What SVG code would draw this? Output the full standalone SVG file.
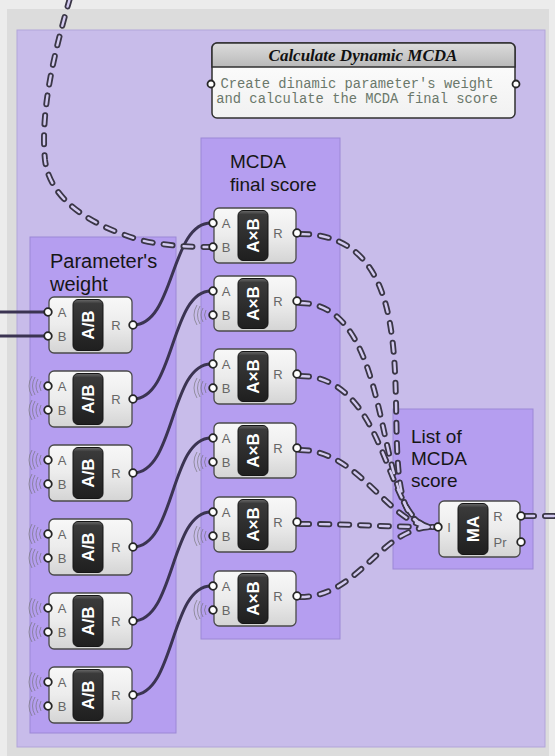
<svg xmlns="http://www.w3.org/2000/svg" xmlns:xlink="http://www.w3.org/1999/xlink" width="555" height="756" viewBox="0 0 555 756">
  <defs>
    <linearGradient id="boxg" x1="0" y1="0" x2="0" y2="1">
      <stop offset="0" stop-color="#f8f8f8"/>
      <stop offset="0.5" stop-color="#ececec"/>
      <stop offset="1" stop-color="#d4d4d4"/>
    </linearGradient>
    <linearGradient id="capg" x1="0" y1="0" x2="0" y2="1">
      <stop offset="0" stop-color="#6a6a6a"/>
      <stop offset="0.08" stop-color="#3a3a3a"/>
      <stop offset="1" stop-color="#1f1f1f"/>
    </linearGradient>
    <linearGradient id="hdrg" x1="0" y1="0" x2="0" y2="1">
      <stop offset="0" stop-color="#dcdcdc"/>
      <stop offset="1" stop-color="#b9b9b9"/>
    </linearGradient>
    <linearGradient id="bodyg" x1="0" y1="0" x2="0" y2="1">
      <stop offset="0" stop-color="#ffffff"/>
      <stop offset="1" stop-color="#f1f1f1"/>
    </linearGradient>
    <!-- wireless-input marker: faint arcs left of a port -->
    <g id="wl" class="wl">
      <path d="M-7,-5 Q-10,0 -7,5 M-10,-7 Q-14,0 -10,7 M-13,-9 Q-18,0 -13,9 M-16,-10 Q-22,0 -16,10"/>
    </g>
    <style>
      .outer { fill: #c8bcea; stroke: #b2a5d9; stroke-width: 1; }
      .grp { fill: #b59ef0; stroke: #9c88d6; stroke-width: 1; }
      .gtitle { font-family: "Liberation Sans", Arial, sans-serif; font-size: 19px; fill: #161616; }
      .box { fill: url(#boxg); stroke: #4a4a4a; stroke-width: 1.3; }
      .cap { fill: url(#capg); stroke: #151515; stroke-width: 1; }
      .captxt { font-family: "Liberation Sans", Arial, sans-serif; font-size: 17px; font-weight: bold; fill: #ffffff; }
      .plbl { font-family: "Liberation Sans", Arial, sans-serif; font-size: 13px; fill: #666666; }
      .port { fill: #ffffff; stroke: #262626; stroke-width: 1.8; }
      .wire { fill: none; stroke: #3b3452; stroke-width: 3; }
      .dso { fill: none; stroke: #3a3646; stroke-width: 6; stroke-dasharray: 9 11; stroke-linecap: round; }
      .dsi { fill: none; stroke: #d3caf0; stroke-width: 2.4; stroke-dasharray: 9 11; stroke-linecap: round; }
      .wl { fill: none; stroke: #6e6e6e; stroke-width: 1; opacity: 0.6; }
    </style>
  </defs>

  <!-- canvas -->
  <rect x="0" y="0" width="555" height="756" fill="#ececec"/>
  <rect x="7" y="9" width="542" height="747" fill="#dcdcdc"/>

  <!-- outer group -->
  <rect id="outer-group" class="outer" x="17" y="30" width="528" height="717"/>

  <!-- inner groups -->
  <g id="group-weight">
    <rect class="grp" x="30" y="237" width="146" height="496"/>
    <text class="gtitle" x="50" y="268" style="font-size:20px">Parameter's</text>
    <text class="gtitle" x="50" y="291" style="font-size:20px">weight</text>
  </g>
  <g id="group-final">
    <rect class="grp" x="201" y="138" width="139" height="501"/>
    <text class="gtitle" x="230" y="168">MCDA</text>
    <text class="gtitle" x="230" y="191">final score</text>
  </g>
  <g id="group-list">
    <rect class="grp" x="393" y="409" width="140" height="160"/>
    <text class="gtitle" x="411" y="443">List of</text>
    <text class="gtitle" x="411" y="465">MCDA</text>
    <text class="gtitle" x="411" y="487">score</text>
  </g>

  <!-- comment panel -->
  <g id="comment">
    <rect x="212" y="43" width="303" height="75" rx="5" fill="url(#bodyg)" stroke="#303030" stroke-width="1.5"/>
    <path d="M212,67 V48 A5,5 0 0 1 217,43 H510 A5,5 0 0 1 515,48 V67 Z" fill="url(#hdrg)" stroke="#303030" stroke-width="1.5"/>
    <text x="363" y="61" text-anchor="middle" font-family="'Liberation Serif', 'Times New Roman', serif" font-size="17" font-weight="bold" font-style="italic" fill="#111">Calculate Dynamic MCDA</text>
    <text x="357" y="88" text-anchor="middle" font-family="'Liberation Mono', 'Courier New', monospace" font-size="13.8" fill="#6b786b">Create dinamic parameter's weight</text>
    <text x="357" y="103" text-anchor="middle" font-family="'Liberation Mono', 'Courier New', monospace" font-size="13.8" fill="#6b786b">and calculate the MCDA final score</text>
    <circle class="port" cx="211" cy="84" r="3.5"/>
    <circle class="port" cx="516" cy="84" r="3.5"/>
  </g>

  <!-- connectors -->
  <g id="connectors">
    <!-- solid inputs into first division -->
    <path class="wire" d="M0,312 H45"/>
    <path class="wire" d="M0,336 H45"/>
    <!-- weight outputs into multiplications -->
    <path class="wire" d="M133,325 C175,325 170,223 211,223"/>
    <path class="wire" d="M133,399 C175,399 170,291 211,291"/>
    <path class="wire" d="M133,473 C175,473 170,364 211,364"/>
    <path class="wire" d="M133,547 C175,547 170,438 211,438"/>
    <path class="wire" d="M133,621 C175,621 170,512 211,512"/>
    <path class="wire" d="M133,695 C175,695 170,586 211,586"/>

    <!-- tree wires (outer dark dash + light core) -->
    <g id="tree-wires">
      <path class="dso" d="M70,-2 C55,50 40,110 45,160 C50,200 90,225 140,240 C165,246 190,247 211,247"/>
      <path class="dso" d="M300,234 C460,234 350,527 433,527"/>
      <path class="dso" d="M300,303 C400,303 370,527 433,527"/>
      <path class="dso" d="M300,376 C390,376 385,527 433,527"/>
      <path class="dso" d="M300,450 C360,450 390,527 433,527"/>
      <path class="dso" d="M300,524 C360,524 380,527 433,527"/>
      <path class="dso" d="M300,597 C360,597 380,527 433,527"/>
      <path class="dso" d="M525,516 H560"/>

      <path class="dsi" d="M70,-2 C55,50 40,110 45,160 C50,200 90,225 140,240 C165,246 190,247 211,247"/>
      <path class="dsi" d="M300,234 C460,234 350,527 433,527"/>
      <path class="dsi" d="M300,303 C400,303 370,527 433,527"/>
      <path class="dsi" d="M300,376 C390,376 385,527 433,527"/>
      <path class="dsi" d="M300,450 C360,450 390,527 433,527"/>
      <path class="dsi" d="M300,524 C360,524 380,527 433,527"/>
      <path class="dsi" d="M300,597 C360,597 380,527 433,527"/>
      <path class="dsi" d="M525,516 H560"/>
    </g>
  </g>

  <!-- Parameter's weight: division components -->
  <g id="div1" transform="translate(49,297)">
    <rect class="box" width="83" height="56" rx="5"/>
    <rect class="cap" x="24" y="2.5" width="30" height="51" rx="5"/>
    <text class="captxt" transform="translate(45,28) rotate(-90)" text-anchor="middle">A/B</text>
    <text class="plbl" x="13" y="20" text-anchor="middle">A</text>
    <text class="plbl" x="13" y="44" text-anchor="middle">B</text>
    <text class="plbl" x="67" y="33" text-anchor="middle">R</text>
    <circle class="port" cx="-1" cy="15" r="3.8"/>
    <circle class="port" cx="-1" cy="39" r="3.8"/>
    <circle class="port" cx="84" cy="28" r="3.8"/>
  </g>
  <g id="div2" transform="translate(49,371)">
    <use href="#wl" x="-1" y="15"/><use href="#wl" x="-1" y="39"/>
    <rect class="box" width="83" height="56" rx="5"/>
    <rect class="cap" x="24" y="2.5" width="30" height="51" rx="5"/>
    <text class="captxt" transform="translate(45,28) rotate(-90)" text-anchor="middle">A/B</text>
    <text class="plbl" x="13" y="20" text-anchor="middle">A</text>
    <text class="plbl" x="13" y="44" text-anchor="middle">B</text>
    <text class="plbl" x="67" y="33" text-anchor="middle">R</text>
    <circle class="port" cx="-1" cy="15" r="3.8"/>
    <circle class="port" cx="-1" cy="39" r="3.8"/>
    <circle class="port" cx="84" cy="28" r="3.8"/>
  </g>
  <g id="div3" transform="translate(49,445)">
    <use href="#wl" x="-1" y="15"/><use href="#wl" x="-1" y="39"/>
    <rect class="box" width="83" height="56" rx="5"/>
    <rect class="cap" x="24" y="2.5" width="30" height="51" rx="5"/>
    <text class="captxt" transform="translate(45,28) rotate(-90)" text-anchor="middle">A/B</text>
    <text class="plbl" x="13" y="20" text-anchor="middle">A</text>
    <text class="plbl" x="13" y="44" text-anchor="middle">B</text>
    <text class="plbl" x="67" y="33" text-anchor="middle">R</text>
    <circle class="port" cx="-1" cy="15" r="3.8"/>
    <circle class="port" cx="-1" cy="39" r="3.8"/>
    <circle class="port" cx="84" cy="28" r="3.8"/>
  </g>
  <g id="div4" transform="translate(49,519)">
    <use href="#wl" x="-1" y="15"/><use href="#wl" x="-1" y="39"/>
    <rect class="box" width="83" height="56" rx="5"/>
    <rect class="cap" x="24" y="2.5" width="30" height="51" rx="5"/>
    <text class="captxt" transform="translate(45,28) rotate(-90)" text-anchor="middle">A/B</text>
    <text class="plbl" x="13" y="20" text-anchor="middle">A</text>
    <text class="plbl" x="13" y="44" text-anchor="middle">B</text>
    <text class="plbl" x="67" y="33" text-anchor="middle">R</text>
    <circle class="port" cx="-1" cy="15" r="3.8"/>
    <circle class="port" cx="-1" cy="39" r="3.8"/>
    <circle class="port" cx="84" cy="28" r="3.8"/>
  </g>
  <g id="div5" transform="translate(49,593)">
    <use href="#wl" x="-1" y="15"/><use href="#wl" x="-1" y="39"/>
    <rect class="box" width="83" height="56" rx="5"/>
    <rect class="cap" x="24" y="2.5" width="30" height="51" rx="5"/>
    <text class="captxt" transform="translate(45,28) rotate(-90)" text-anchor="middle">A/B</text>
    <text class="plbl" x="13" y="20" text-anchor="middle">A</text>
    <text class="plbl" x="13" y="44" text-anchor="middle">B</text>
    <text class="plbl" x="67" y="33" text-anchor="middle">R</text>
    <circle class="port" cx="-1" cy="15" r="3.8"/>
    <circle class="port" cx="-1" cy="39" r="3.8"/>
    <circle class="port" cx="84" cy="28" r="3.8"/>
  </g>
  <g id="div6" transform="translate(49,667)">
    <use href="#wl" x="-1" y="15"/><use href="#wl" x="-1" y="39"/>
    <rect class="box" width="83" height="56" rx="5"/>
    <rect class="cap" x="24" y="2.5" width="30" height="51" rx="5"/>
    <text class="captxt" transform="translate(45,28) rotate(-90)" text-anchor="middle">A/B</text>
    <text class="plbl" x="13" y="20" text-anchor="middle">A</text>
    <text class="plbl" x="13" y="44" text-anchor="middle">B</text>
    <text class="plbl" x="67" y="33" text-anchor="middle">R</text>
    <circle class="port" cx="-1" cy="15" r="3.8"/>
    <circle class="port" cx="-1" cy="39" r="3.8"/>
    <circle class="port" cx="84" cy="28" r="3.8"/>
  </g>

  <!-- MCDA final score: multiplication components -->
  <g id="mul1" transform="translate(214,208)">
    <rect class="box" width="82" height="55" rx="5"/>
    <rect class="cap" x="24" y="2.5" width="30" height="50" rx="5"/>
    <text class="captxt" transform="translate(45,27.5) rotate(-90)" text-anchor="middle">A×B</text>
    <text class="plbl" x="12" y="20" text-anchor="middle">A</text>
    <text class="plbl" x="12" y="44" text-anchor="middle">B</text>
    <text class="plbl" x="64" y="30" text-anchor="middle">R</text>
    <circle class="port" cx="-1" cy="15" r="3.8"/>
    <circle class="port" cx="-1" cy="39" r="3.8"/>
    <circle class="port" cx="83" cy="25" r="3.8"/>
  </g>
  <g id="mul2" transform="translate(214,276)">
    <use href="#wl" x="-1" y="39"/>
    <rect class="box" width="82" height="55" rx="5"/>
    <rect class="cap" x="24" y="2.5" width="30" height="50" rx="5"/>
    <text class="captxt" transform="translate(45,27.5) rotate(-90)" text-anchor="middle">A×B</text>
    <text class="plbl" x="12" y="20" text-anchor="middle">A</text>
    <text class="plbl" x="12" y="44" text-anchor="middle">B</text>
    <text class="plbl" x="64" y="30" text-anchor="middle">R</text>
    <circle class="port" cx="-1" cy="15" r="3.8"/>
    <circle class="port" cx="-1" cy="39" r="3.8"/>
    <circle class="port" cx="83" cy="25" r="3.8"/>
  </g>
  <g id="mul3" transform="translate(214,349)">
    <use href="#wl" x="-1" y="39"/>
    <rect class="box" width="82" height="55" rx="5"/>
    <rect class="cap" x="24" y="2.5" width="30" height="50" rx="5"/>
    <text class="captxt" transform="translate(45,27.5) rotate(-90)" text-anchor="middle">A×B</text>
    <text class="plbl" x="12" y="20" text-anchor="middle">A</text>
    <text class="plbl" x="12" y="44" text-anchor="middle">B</text>
    <text class="plbl" x="64" y="30" text-anchor="middle">R</text>
    <circle class="port" cx="-1" cy="15" r="3.8"/>
    <circle class="port" cx="-1" cy="39" r="3.8"/>
    <circle class="port" cx="83" cy="25" r="3.8"/>
  </g>
  <g id="mul4" transform="translate(214,423)">
    <use href="#wl" x="-1" y="39"/>
    <rect class="box" width="82" height="55" rx="5"/>
    <rect class="cap" x="24" y="2.5" width="30" height="50" rx="5"/>
    <text class="captxt" transform="translate(45,27.5) rotate(-90)" text-anchor="middle">A×B</text>
    <text class="plbl" x="12" y="20" text-anchor="middle">A</text>
    <text class="plbl" x="12" y="44" text-anchor="middle">B</text>
    <text class="plbl" x="64" y="30" text-anchor="middle">R</text>
    <circle class="port" cx="-1" cy="15" r="3.8"/>
    <circle class="port" cx="-1" cy="39" r="3.8"/>
    <circle class="port" cx="83" cy="25" r="3.8"/>
  </g>
  <g id="mul5" transform="translate(214,497)">
    <use href="#wl" x="-1" y="39"/>
    <rect class="box" width="82" height="55" rx="5"/>
    <rect class="cap" x="24" y="2.5" width="30" height="50" rx="5"/>
    <text class="captxt" transform="translate(45,27.5) rotate(-90)" text-anchor="middle">A×B</text>
    <text class="plbl" x="12" y="20" text-anchor="middle">A</text>
    <text class="plbl" x="12" y="44" text-anchor="middle">B</text>
    <text class="plbl" x="64" y="30" text-anchor="middle">R</text>
    <circle class="port" cx="-1" cy="15" r="3.8"/>
    <circle class="port" cx="-1" cy="39" r="3.8"/>
    <circle class="port" cx="83" cy="25" r="3.8"/>
  </g>
  <g id="mul6" transform="translate(214,571)">
    <use href="#wl" x="-1" y="39"/>
    <rect class="box" width="82" height="55" rx="5"/>
    <rect class="cap" x="24" y="2.5" width="30" height="50" rx="5"/>
    <text class="captxt" transform="translate(45,27.5) rotate(-90)" text-anchor="middle">A×B</text>
    <text class="plbl" x="12" y="20" text-anchor="middle">A</text>
    <text class="plbl" x="12" y="44" text-anchor="middle">B</text>
    <text class="plbl" x="64" y="30" text-anchor="middle">R</text>
    <circle class="port" cx="-1" cy="15" r="3.8"/>
    <circle class="port" cx="-1" cy="39" r="3.8"/>
    <circle class="port" cx="83" cy="25" r="3.8"/>
  </g>

  <!-- List of MCDA score: mass addition -->
  <g id="massadd" transform="translate(439,501)">
    <rect class="box" width="81" height="56" rx="5"/>
    <rect class="cap" x="19" y="2.5" width="30" height="51" rx="5"/>
    <text class="captxt" transform="translate(40,28) rotate(-90)" text-anchor="middle">MA</text>
    <text class="plbl" x="10" y="31" text-anchor="middle">I</text>
    <text class="plbl" x="59" y="20" text-anchor="middle">R</text>
    <text class="plbl" x="61" y="46" text-anchor="middle">Pr</text>
    <circle class="port" cx="-1" cy="26" r="3.8"/>
    <circle class="port" cx="82" cy="15" r="3.8"/>
    <circle class="port" cx="82" cy="41" r="3.8"/>
  </g>
</svg>
